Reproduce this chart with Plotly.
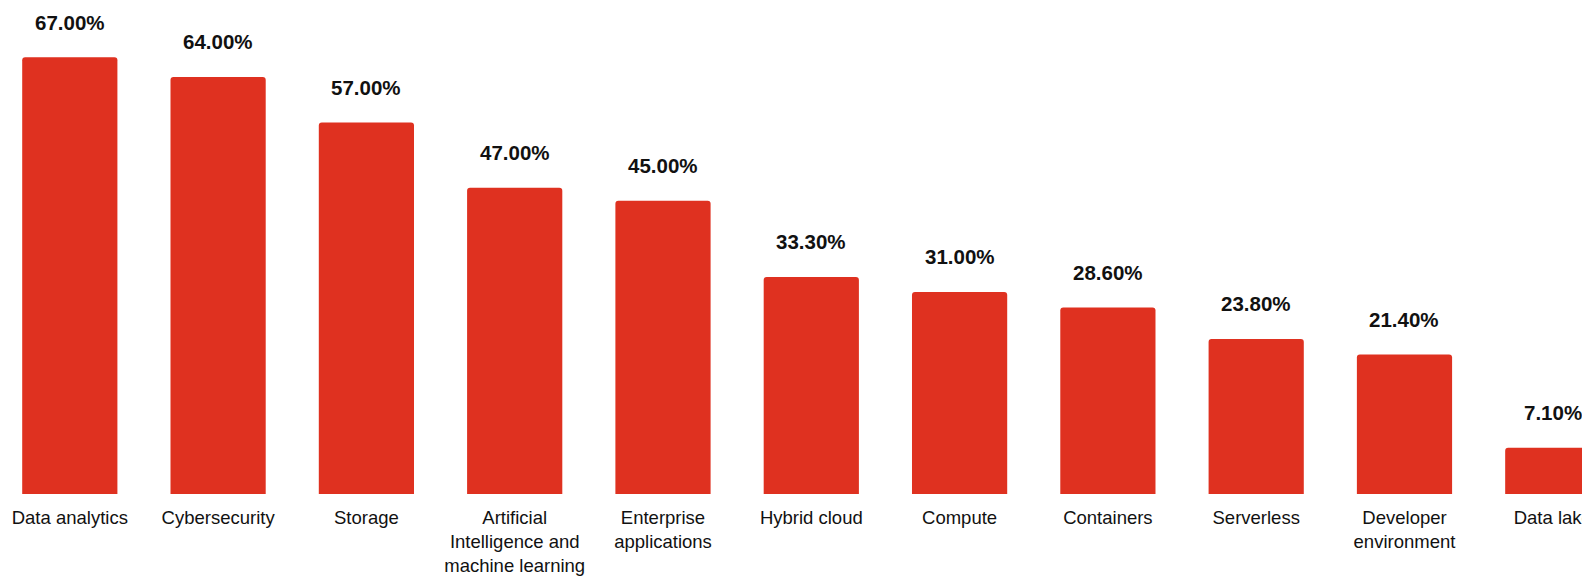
import plotly.graph_objects as go

# Share of respondents by workload area
categories = [
    "Data analytics", "Cybersecurity", "Storage",
    "Artificial Intelligence and machine learning", "Enterprise applications",
    "Hybrid cloud", "Compute", "Containers", "Serverless",
    "Developer environment", "Data lake",
]
tick_labels = [
    "Data analytics", "Cybersecurity", "Storage",
    "Artificial<br>Intelligence and<br>machine learning", "Enterprise<br>applications",
    "Hybrid cloud", "Compute", "Containers", "Serverless",
    "Developer<br>environment", "Data lake",
]
values = [67.0, 64.0, 57.0, 47.0, 45.0, 33.3, 31.0, 28.6, 23.8, 21.4, 7.1]

BAR_COLOR = "#DF3120"
FONT = "Liberation Sans, Arial, sans-serif"

fig = go.Figure(
    go.Bar(
        x=categories,
        y=values,
        marker=dict(color=BAR_COLOR, line=dict(width=0), cornerradius=3),
        hoverinfo="skip",
    )
)

# Percentage labels above each bar
for cat, val in zip(categories, values):
    fig.add_annotation(
        x=cat, y=val, text=f"{val:.2f}%",
        showarrow=False, yanchor="middle", yshift=35,
        font=dict(family=FONT, size=20.5, color="#111111", weight="bold"),
    )

fig.update_layout(
    width=1582, height=576,
    margin=dict(l=0, r=0, t=0, b=82),
    paper_bgcolor="white", plot_bgcolor="white",
    bargap=0.358,
    showlegend=False,
    font=dict(family=FONT, size=18.5, color="#111111"),
)
fig.update_xaxes(
    type="category",
    automargin=False,
    range=[-0.4707, 10.197],
    tickvals=categories, ticktext=tick_labels,
    showgrid=False, zeroline=False, showline=False, ticks="",
    ticklabelstandoff=10,
    tickfont=dict(family=FONT, size=18.5, color="#111111"),
)
fig.update_yaxes(
    automargin=False,
    range=[0, 75.8], visible=False, showgrid=False, zeroline=False,
)

fig.write_html("out.html")
